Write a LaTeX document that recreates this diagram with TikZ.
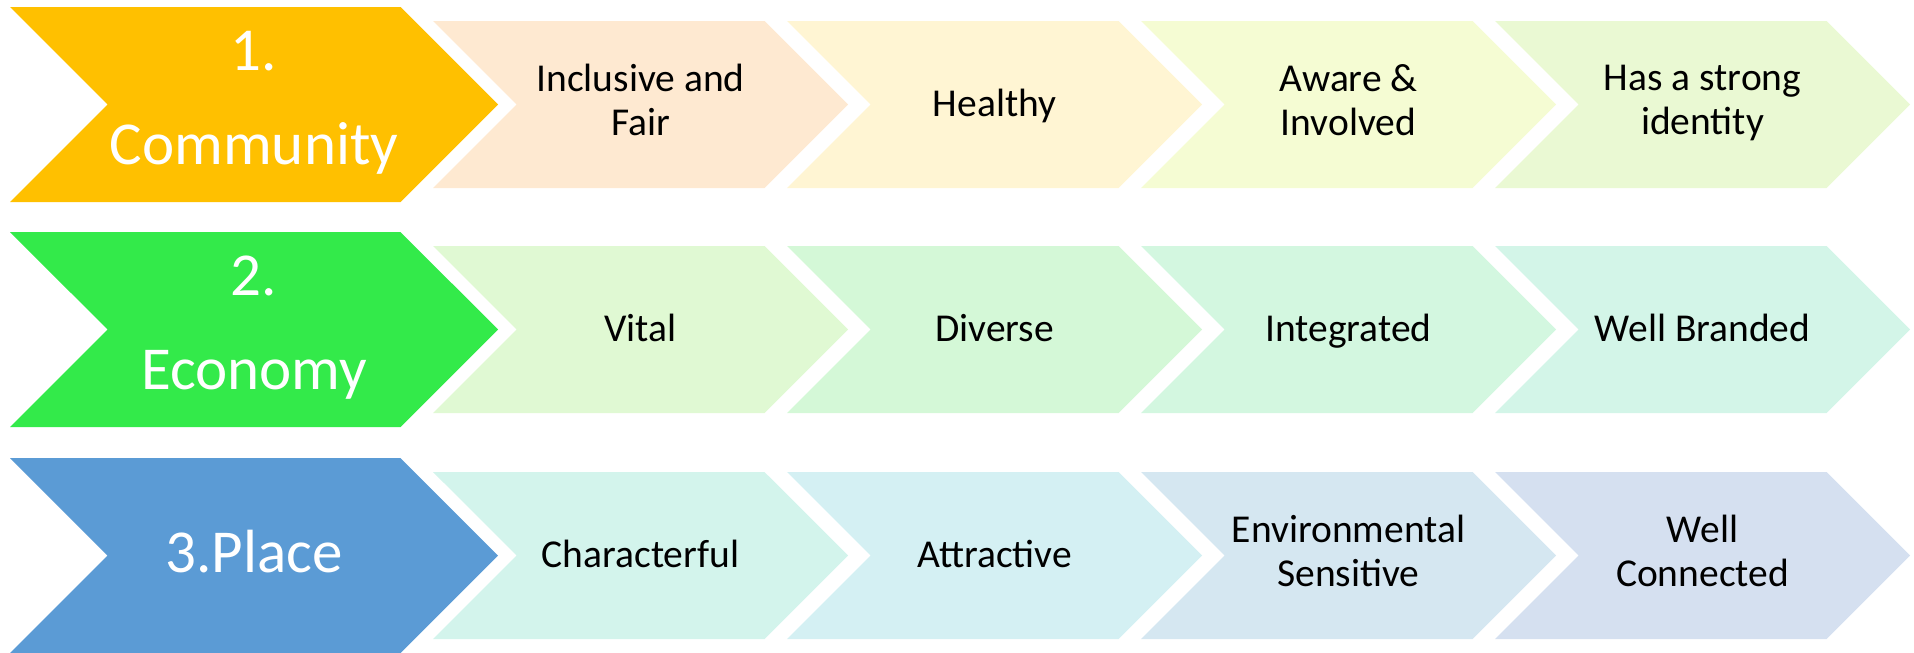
\documentclass[tikz,border=0pt]{standalone}
\usepackage{fontspec}
\setmainfont{Carlito}
\usepackage{tikz}
\usetikzlibrary{shapes.symbols}
\usetikzlibrary{positioning}

\definecolor{commcol}{HTML}{FFC000}
\definecolor{econcol}{HTML}{33EA4A}
\definecolor{placecol}{HTML}{5B9BD5}

\definecolor{ca}{HTML}{FEE9D1}
\definecolor{cb}{HTML}{FFF5D3}
\definecolor{cc}{HTML}{F5FCD3}
\definecolor{cd}{HTML}{EAF9D3}
\definecolor{ea}{HTML}{E0F9D3}
\definecolor{eb}{HTML}{D4F8D7}
\definecolor{ec}{HTML}{D3F7E0}
\definecolor{ed}{HTML}{D3F5E8}
\definecolor{pa}{HTML}{D3F4EC}
\definecolor{pb}{HTML}{D4F0F3}
\definecolor{pc}{HTML}{D5E7F1}
\definecolor{pd}{HTML}{D5E0F0}

% fixed line heights so every label sits the same way
\newcommand{\headstrut}{\rule[-14pt]{0pt}{62pt}}
\newcommand{\itemstrut}{\rule[-9pt]{0pt}{41pt}}

\begin{document}
\begin{tikzpicture}[x=1pt,y=1pt,
                    head node/.style={signal,signal from=west,signal to=east,inner sep=0pt,
                      minimum width=488pt,minimum height=195pt,text=white,align=center,
                      font=\fontsize{61}{94}\selectfont,
                      execute at begin node=\headstrut,execute at end node=\headstrut},
                    item node/.style={signal,signal from=west,signal to=east,inner sep=0pt,
                      minimum width=415pt,minimum height=167pt,text=black,align=center,
                      font=\fontsize{39.5}{44}\selectfont,
                      execute at begin node=\itemstrut,execute at end node=\itemstrut}]

  \useasboundingbox (0,0) rectangle (1914,-653);

  % the three headings
  \node[head node,fill=commcol] (comm) at (254,-104.5) {1.\\Community};
  \node[head node,fill=econcol,node distance=225pt] (econ) [below of=comm] {2.\\Economy};
  \node[head node,fill=placecol,node distance=226pt] (place) [below of=econ] {3.Place};

  % community row
  \node[item node,fill=ca,node distance=386.5pt] (comm1) [right of=comm] {Inclusive and\\Fair};
  \node[item node,fill=cb,node distance=354pt] (comm2) [right of=comm1] {Healthy};
  \node[item node,fill=cc,node distance=354pt] (comm3) [right of=comm2] {Aware \&\\Involved};
  \node[item node,fill=cd,node distance=354pt] (comm4) [right of=comm3] {Has a strong\\identity};

  % economy row
  \node[item node,fill=ea,node distance=386.5pt] (econ1) [right of=econ] {Vital};
  \node[item node,fill=eb,node distance=354pt] (econ2) [right of=econ1] {Diverse};
  \node[item node,fill=ec,node distance=354pt] (econ3) [right of=econ2] {Integrated};
  \node[item node,fill=ed,node distance=354pt] (econ4) [right of=econ3] {Well Branded};

  % place row
  \node[item node,fill=pa,node distance=386.5pt] (place1) [right of=place] {Characterful};
  \node[item node,fill=pb,node distance=354pt] (place2) [right of=place1] {Attractive};
  \node[item node,fill=pc,node distance=354pt] (place3) [right of=place2] {Environmental\\Sensitive};
  \node[item node,fill=pd,node distance=354pt] (place4) [right of=place3] {Well\\Connected};
\end{tikzpicture}
\end{document}
